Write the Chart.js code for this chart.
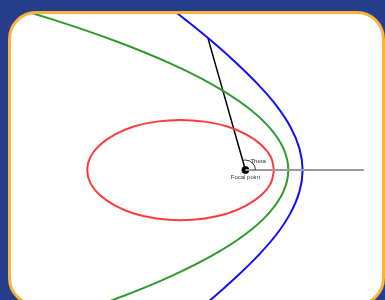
<!DOCTYPE html>
<html>
<head>
<meta charset="utf-8">
<script src="https://cdn.jsdelivr.net/npm/chart.js@4.4.0/dist/chart.umd.min.js"></script>
<style>
  html, body { margin: 0; padding: 0; }
  body { width: 385px; height: 300px; background: #253d8c; overflow: hidden; position: relative; }
  #box {
    position: absolute; left: 8px; top: 11px; width: 377px; height: 295px;
    box-sizing: border-box; border: 3px solid #fbb33a; border-radius: 28px;
    background: #fff; overflow: hidden;
  }
  #myChart { position: absolute; left: -11px; top: -14px; }
</style>
</head>
<body>
<div id="box"><canvas id="myChart" width="385" height="300"></canvas></div>
<script>
// orbits around one focal point at (0, 0)
var ellipseX = [1.00, 0.89, 0.56, 0.04, -0.63, -1.42, -2.27, -3.11, -3.90, -4.57, -5.09, -5.42, -5.53,
                -5.42, -5.09, -4.57, -3.90, -3.11, -2.27, -1.42, -0.63, 0.04, 0.56, 0.89, 1.00];
var ellipseY = [0, 0.61, 1.17, 1.65, 2.03, 2.26, 2.34, 2.26, 2.03, 1.65, 1.17, 0.61, 0,
                -0.61, -1.17, -1.65, -2.03, -2.26, -2.34, -2.26, -2.03, -1.65, -1.17, -0.61, 0];

var parabolaX = [-9.17, -6.67, -4.50, -2.67, -1.17, 0, 0.83, 1.33, 1.50, 1.33, 0.83, 0, -1.17, -2.67, -4.50, -6.67, -9.17];
var parabolaY = [8, 7, 6, 5, 4, 3, 2, 1, 0, -1, -2, -3, -4, -5, -6, -7, -8];

var hyperbolaX = [-3.05, -2.08, -1.16, -0.32, 0.44, 1.09, 1.58, 1.89, 2.00, 1.89, 1.58, 1.09, 0.44, -0.32, -1.16, -2.08, -3.05];
var hyperbolaY = [8, 7, 6, 5, 4, 3, 2, 1, 0, -1, -2, -3, -4, -5, -6, -7, -8];

var rayX = [0, -1.31];
var rayY = [0, 6.16];
var axisX = [0, 4.14];
var axisY = [0, 0];

function toPoints(xs, ys) {
    return xs.map(function (x, i) { return { x: x, y: ys[i] }; });
}

// Theta arc and the two labels
var notes = {
    id: 'notes',
    afterDatasetsDraw: function (chart) {
        var c = chart.ctx;
        var fx = chart.scales.x.getPixelForValue(0);
        var fy = chart.scales.y.getPixelForValue(0);
        var rx = chart.scales.x.getPixelForValue(rayX[1]) - fx;
        var ry = chart.scales.y.getPixelForValue(rayY[1]) - fy;
        c.save();
        c.strokeStyle = '#333';
        c.lineWidth = 1;
        c.beginPath();
        c.arc(fx, fy, 10, 0, Math.atan2(ry, rx), true);
        c.stroke();
        c.fillStyle = '#333';
        c.font = '6px Arial, "Liberation Sans", sans-serif';
        c.textBaseline = 'middle';
        c.textAlign = 'left';
        c.fillText('Theta', fx + 5, fy - 8.5);
        c.textAlign = 'center';
        c.fillText('Focal point', fx, fy + 7);
        c.restore();
    }
};

var ctx = document.getElementById('myChart').getContext('2d');
var myChart = new Chart(ctx, {
    type: 'scatter',
    data: {
        datasets: [{
            data: toPoints(axisX, axisY),
            showLine: true, borderColor: '#999', borderWidth: 2, pointRadius: 0
        }, {
            data: toPoints(ellipseX, ellipseY),
            showLine: true, borderColor: '#ff3a3a', borderWidth: 2, pointRadius: 0, tension: 0.4
        }, {
            data: toPoints(parabolaX, parabolaY),
            showLine: true, borderColor: '#2e9a2e', borderWidth: 2, pointRadius: 0, tension: 0.4
        }, {
            data: toPoints(hyperbolaX, hyperbolaY),
            showLine: true, borderColor: '#1010ff', borderWidth: 2, pointRadius: 0, tension: 0.4
        }, {
            data: toPoints(rayX, rayY),
            showLine: true, borderColor: '#000', borderWidth: 1.5, pointRadius: 0
        }, {
            data: [{ x: 0, y: 0 }],
            pointRadius: 3.5, backgroundColor: '#000', borderColor: '#000'
        }]
    },
    options: {
        responsive: false,
        animation: false,
        layout: { padding: 0, autoPadding: false },
        plugins: { legend: { display: false }, tooltip: { enabled: false } },
        scales: {
            x: { type: 'linear', display: false, min: -8.58, max: 4.88 },
            y: { type: 'linear', display: false, min: -6.07, max: 7.94 }
        }
    },
    plugins: [notes]
});
</script>
</body>
</html>
